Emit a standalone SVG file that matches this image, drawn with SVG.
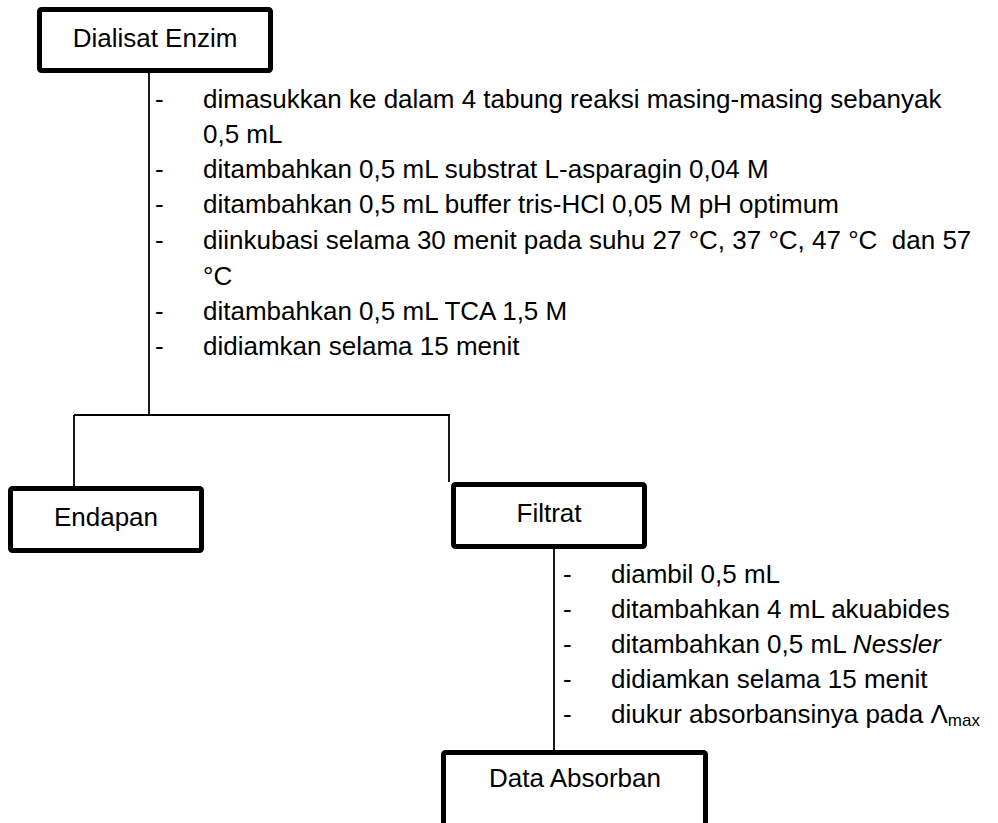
<svg xmlns="http://www.w3.org/2000/svg" width="998" height="823" viewBox="0 0 998 823">
<style>
.box{fill:#fff;stroke:#000;stroke-width:5;stroke-linejoin:round}
.lbl{font-family:"Liberation Sans",Arial,sans-serif;font-size:26px;fill:#000}
.mid{text-anchor:middle}
.con{stroke:#000;stroke-width:1.8;fill:none}
</style>
<rect width="998" height="823" fill="#fff"/>
<g id="connectors">
<path class="con" d="M149 73V415M74 415H450M74 415V486M449 415V482M554 549V750"/>
</g>
<g id="dialisat">
<rect class="box" x="39.5" y="9.5" width="231" height="61" rx="2"/>
<text class="lbl mid" x="155" y="47">Dialisat Enzim</text>
</g>
<g id="steps1" class="lbl">
<text x="155" y="108">-</text><text x="203" y="108">dimasukkan ke dalam 4 tabung reaksi masing-masing sebanyak</text>
<text x="203" y="143">0,5 mL</text>
<text x="155" y="178">-</text><text x="203" y="178">ditambahkan 0,5 mL substrat L-asparagin 0,04 M</text>
<text x="155" y="213">-</text><text x="203" y="213">ditambahkan 0,5 mL buffer tris-HCl 0,05 M pH optimum</text>
<text x="155" y="249">-</text><text x="203" y="249" xml:space="preserve">diinkubasi selama 30 menit pada suhu 27 °C, 37 °C, 47 °C  dan 57</text>
<text x="203" y="285">°C</text>
<text x="155" y="320">-</text><text x="203" y="320">ditambahkan 0,5 mL TCA 1,5 M</text>
<text x="155" y="355">-</text><text x="203" y="355">didiamkan selama 15 menit</text>
</g>
<g id="endapan">
<rect class="box" x="10.5" y="488.5" width="191" height="62" rx="2"/>
<text class="lbl mid" x="106" y="526">Endapan</text>
</g>
<g id="filtrat">
<rect class="box" x="453.5" y="484.5" width="191" height="62" rx="2"/>
<text class="lbl mid" x="549" y="522">Filtrat</text>
</g>
<g id="steps2" class="lbl">
<text x="563" y="583">-</text><text x="611" y="583">diambil 0,5 mL</text>
<text x="563" y="618">-</text><text x="611" y="618">ditambahkan 4 mL akuabides</text>
<text x="563" y="653">-</text><text x="611" y="653">ditambahkan 0,5 mL <tspan font-style="italic">Nessler</tspan></text>
<text x="563" y="688">-</text><text x="611" y="688">didiamkan selama 15 menit</text>
<text x="563" y="723">-</text><text x="611" y="723">diukur absorbansinya pada Λ<tspan font-size="17" dy="3">max</tspan></text>
</g>
<g id="data">
<rect class="box" x="443.5" y="752.5" width="262" height="100" rx="2"/>
<text class="lbl mid" x="575" y="787">Data Absorban</text>
</g>
</svg>
